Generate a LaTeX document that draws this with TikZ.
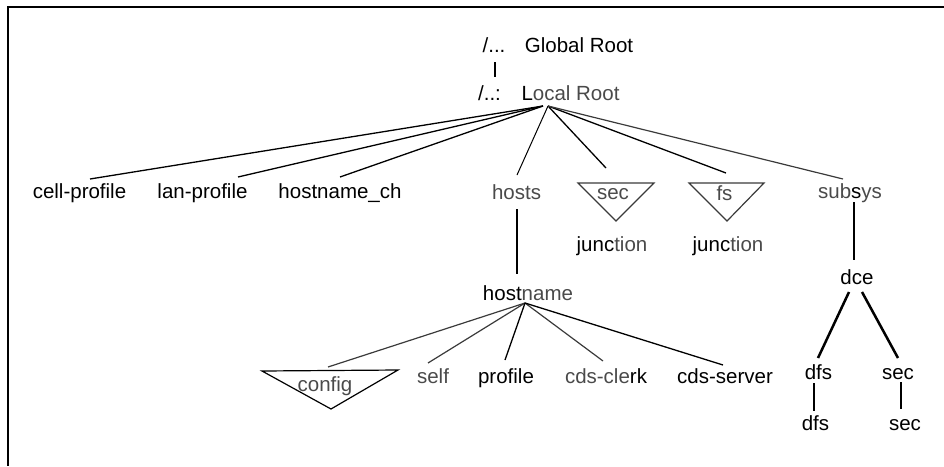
\documentclass[tikz,border=0pt]{standalone}
\usepackage{fontspec}
\setmainfont{Liberation Sans}
\definecolor{tgray}{HTML}{4A4A4A}
\definecolor{lgray}{HTML}{3A3A3A}
\begin{document}
\begin{tikzpicture}[x=1pt,y=-1pt,
  lbl/.style={font=\fontsize{20.5}{24}\selectfont, inner sep=0pt, anchor=base, text=black},
  glbl/.style={lbl, text=tgray},
  link/.style={line width=1.3pt, draw=black},
  glink/.style={line width=1.2pt, draw=lgray},
  blink/.style={line width=2.5pt, draw=black},
  tri/.style={line width=1.2pt, draw=lgray, line join=miter},
  frame/.style={line width=2pt, draw=black}]
\useasboundingbox (0,0) rectangle (944,466);
% frame (top and left only)
\coordinate (f1) at (944,7);
\coordinate (f2) at (8,7);
\coordinate (f3) at (8,466);
\draw[frame] (f1) -- (f2) -- (f3);

% roots
\node[lbl] (gp) at (494,52) {/...};
\node[lbl] (gr) at (579,52) {Global Root};
\node[lbl] (lp) at (489.5,100) {/..:};
\node[lbl] (lr) at (570.5,100) {L\textcolor{tgray}{ocal Root}};
\coordinate (g1) at (495,62);
\coordinate (g2) at (495,77);
\draw[blink] (g1) -- (g2);

% first level
\node[lbl] (cp) at (79.5,198) {cell-profile};
\node[lbl] (lanp) at (202.5,198) {lan-profile};
\node[lbl] (hch) at (340,198) {hostname\_ch};
\node[glbl] (hosts) at (516.5,199) {hosts};
\node[glbl] (secj) at (613,199) {sec};
\node[glbl] (fsj) at (724.5,200) {fs};
\node[glbl] (subsys) at (850,198) {sub\textcolor{black}{s}ys};
\node[lbl] (jun1) at (612,251) {junc\textcolor{tgray}{tion}};
\node[lbl] (jun2) at (728,251) {junc\textcolor{tgray}{tion}};

% triangles
\coordinate (sa) at (578,183); \coordinate (sb) at (654,183); \coordinate (sc) at (616,221);
\draw[tri] (sa) -- (sb) -- (sc) -- cycle;
\coordinate (fa) at (689,183); \coordinate (fb) at (764,183); \coordinate (fc) at (727,221);
\draw[tri] (fa) -- (fb) -- (fc) -- cycle;

% lines from local root
\coordinate (L0) at (543,106);
\coordinate (L1) at (548,106);
\coordinate (e-cp) at (90,179);
\coordinate (e-lan) at (238,177);
\coordinate (e-hch) at (340,177);
\coordinate (e-hosts) at (517,175);
\coordinate (e-sec) at (606,168);
\coordinate (e-fs) at (726,173);
\coordinate (e-sub) at (843,179);
\draw[link] (L0) -- (e-cp);
\draw[link] (L0) -- (e-lan);
\draw[link] (L0) -- (e-hch);
\draw[line width=1pt] (L1) -- (e-hosts);
\draw[link] (L1) -- (e-sec);
\draw[link] (L1) -- (e-fs);
\draw[glink] (L1) -- (e-sub);

% hosts -> hostname
\node[lbl] (hn) at (528,300) {host\textcolor{tgray}{name}};
\coordinate (h1) at (517,209);
\coordinate (h2) at (517,274);
\draw[blink] (h1) -- (h2);

% subsys -> dce
\node[lbl] (dce) at (857,284) {dce};
\coordinate (s1) at (854,202);
\coordinate (s2) at (854,260);
\draw[blink] (s1) -- (s2);

% dce children
\node[lbl] (dfs1) at (818.5,379) {dfs};
\node[lbl] (sec1) at (898,379) {sec};
\node[lbl] (dfs2) at (815.5,430) {dfs};
\node[lbl] (sec2) at (905,430) {sec};
\coordinate (d1) at (849,292); \coordinate (d2) at (818,358);
\coordinate (d3) at (862,292); \coordinate (d4) at (898,358);
\draw[blink] (d1) -- (d2);
\draw[blink] (d3) -- (d4);
\coordinate (d5) at (814,383); \coordinate (d6) at (814,411);
\coordinate (d7) at (901,382); \coordinate (d8) at (901,409);
\draw[blink] (d5) -- (d6);
\draw[blink] (d7) -- (d8);

% hostname children
\node[glbl] (config) at (325,391) {config};
\node[glbl] (self) at (433,383) {self};
\node[lbl] (prof) at (506,383) {profile};
\node[glbl] (clerk) at (606,383) {cds-cle\textcolor{black}{rk}};
\node[lbl] (server) at (725,383) {cds-server};
\coordinate (ca) at (262,371); \coordinate (cb) at (398,370); \coordinate (cc) at (331,409);
\draw[tri, draw=black] (ca) -- (cb) -- (cc) -- cycle;
\coordinate (H) at (525,303);
\coordinate (e-config) at (328,367);
\coordinate (e-self) at (428,363);
\coordinate (e-prof) at (505,360);
\coordinate (e-clerk) at (603,361);
\coordinate (e-server) at (723,365);
\draw[glink] (H) -- (e-config);
\draw[glink] (H) -- (e-self);
\draw[link] (H) -- (e-prof);
\draw[glink] (H) -- (e-clerk);
\draw[link] (H) -- (e-server);
\end{tikzpicture}
\end{document}
